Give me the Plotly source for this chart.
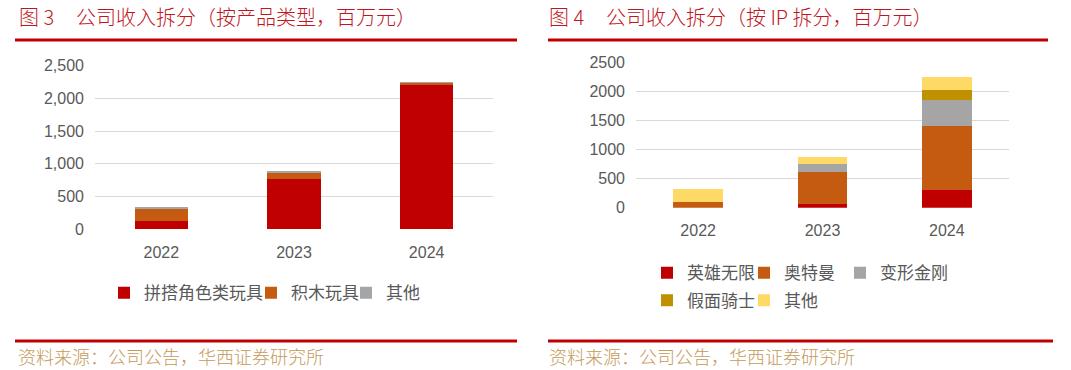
import plotly.graph_objects as go

# ---------------- data ----------------
years = ["2022", "2023", "2024"]

# Figure 3: revenue by product type (RMB mn)
prod_names = ["拼搭角色类玩具", "积木玩具", "其他"]
prod_assembly = [118, 770, 2209]
prod_blocks = [208, 107, 31]
prod_other = [3, 4, 6]

# Figure 4: revenue by IP (RMB mn)
ip_names = ["英雄无限", "奥特曼", "变形金刚", "假面骑士", "其他"]
ip_hero = [0, 57, 304]
ip_ultraman = [103, 562, 1101]
ip_transformers = [0, 126, 447]
ip_kamen = [0, 0, 172]
ip_other = [213, 132, 218]

left_ticks = [0, 500, 1000, 1500, 2000, 2500]
right_ticks = [0, 500, 1000, 1500, 2000, 2500]

# ---------------- style ----------------
W, H = 1071, 370
RED, ORANGE, GREY, GOLD, YELLOW = "#C00000", "#C55A11", "#A5A5A5", "#BF9000", "#FFD966"
TXT = "#595959"
TITLE_RED = "#C0161E"
FOOT = "#C49A5A"
LAT = "Liberation Sans, Arial, Noto Sans CJK SC"
CJK = "Noto Sans CJK SC, Liberation Sans"


def px_x(x):
    return x / W


def px_y(y):
    return 1 - y / H


fig = go.Figure()

left_series = [(prod_names[0], prod_assembly, RED),
               (prod_names[1], prod_blocks, ORANGE),
               (prod_names[2], prod_other, GREY)]
left_leg_x = [104, 251, 346]
for i, (name, vals, col) in enumerate(left_series):
    lg = "legend" if i == 0 else f"legend{i + 1}"
    fig.add_trace(go.Bar(x=years, y=vals, name=name, marker_color=col,
                         marker_line_width=0, xaxis="x", yaxis="y", legend=lg))

right_series = [(ip_names[0], ip_hero, RED),
                (ip_names[1], ip_ultraman, ORANGE),
                (ip_names[2], ip_transformers, GREY),
                (ip_names[3], ip_kamen, GOLD),
                (ip_names[4], ip_other, YELLOW)]
right_leg_pos = [(647, 273.3), (744, 273.3), (840, 273.3), (647, 300.7), (744, 300.7)]
for j, (name, vals, col) in enumerate(right_series):
    lg = f"legend{j + 4}"
    fig.add_trace(go.Bar(x=years, y=vals, name=name, marker_color=col,
                         marker_line_width=0, xaxis="x2", yaxis="y2", legend=lg))

layout_legends = {}
for i in range(3):
    key = "legend" if i == 0 else f"legend{i + 1}"
    layout_legends[key] = dict(orientation="h", x=px_x(left_leg_x[i]), xanchor="left",
                               y=px_y(293.3), yanchor="middle", bgcolor="rgba(0,0,0,0)",
                               font=dict(family=CJK, size=17, color=TXT),
                               borderwidth=0, itemclick=False)
for j in range(5):
    key = f"legend{j + 4}"
    lx, ly = right_leg_pos[j]
    layout_legends[key] = dict(orientation="h", x=px_x(lx), xanchor="left",
                               y=px_y(ly), yanchor="middle", bgcolor="rgba(0,0,0,0)",
                               font=dict(family=CJK, size=17, color=TXT),
                               borderwidth=0, itemclick=False)

axis_common = dict(showline=False, ticks="", zeroline=False)

fig.update_layout(
    width=W, height=H,
    margin=dict(l=0, r=0, t=0, b=0, autoexpand=False),
    paper_bgcolor="white", plot_bgcolor="white",
    barmode="stack", bargap=0.6,
    showlegend=True,
    xaxis=dict(domain=[px_x(95), px_x(493)], anchor="y", type="category",
               tickfont=dict(family=LAT, size=16, color=TXT), showgrid=False,
               ticklabelstandoff=12, **axis_common),
    yaxis=dict(domain=[px_y(229), px_y(65.7)], anchor="x", range=[0, 2500],
               tickvals=left_ticks, tickformat=",d",
               tickfont=dict(family=LAT, size=16, color=TXT),
               showgrid=True, gridcolor="#D9D9D9", gridwidth=1,
               ticklabelstandoff=10, **axis_common),
    xaxis2=dict(domain=[px_x(636), px_x(1009)], anchor="y2", type="category",
                tickfont=dict(family=LAT, size=16, color=TXT), showgrid=False,
                ticklabelstandoff=11, **axis_common),
    yaxis2=dict(domain=[px_y(207.7), px_y(62.3)], anchor="x2", range=[0, 2500],
                tickvals=right_ticks, tickformat="d",
                tickfont=dict(family=LAT, size=16, color=TXT),
                showgrid=True, gridcolor="#D9D9D9", gridwidth=1,
                ticklabelstandoff=10, **axis_common),
    **layout_legends,
)

# header / footer rules
lines = [(15, 517, 40), (548, 1048, 40), (15, 517, 341), (548, 1053, 341)]
for x0, x1, y in lines:
    fig.add_shape(type="line", xref="paper", yref="paper",
                  x0=px_x(x0), x1=px_x(x1), y0=px_y(y), y1=px_y(y),
                  line=dict(color="#C00000", width=3))

title_font = dict(family=CJK, size=20, color=TITLE_RED, weight=300)
annots = [
    ("图 3", 17, 17, title_font),
    ("公司收入拆分（按产品类型，百万元）", 74, 17, title_font),
    ("图 4", 547, 17, title_font),
    ("公司收入拆分（按 IP 拆分，百万元）", 604, 17, title_font),
    ("资料来源：公司公告，华西证券研究所", 16, 356, dict(family=CJK, size=18, color=FOOT, weight=300)),
    ("资料来源：公司公告，华西证券研究所", 547, 356, dict(family=CJK, size=18, color=FOOT, weight=300)),
]
for text, x, y, f in annots:
    fig.add_annotation(text=text, xref="paper", yref="paper", x=px_x(x), y=px_y(y),
                       xanchor="left", yanchor="middle", showarrow=False, font=f)

fig.write_html("out.html",
               config={"displayModeBar": False},
               post_script="document.body.style.margin='0';document.body.style.overflow='hidden';")
